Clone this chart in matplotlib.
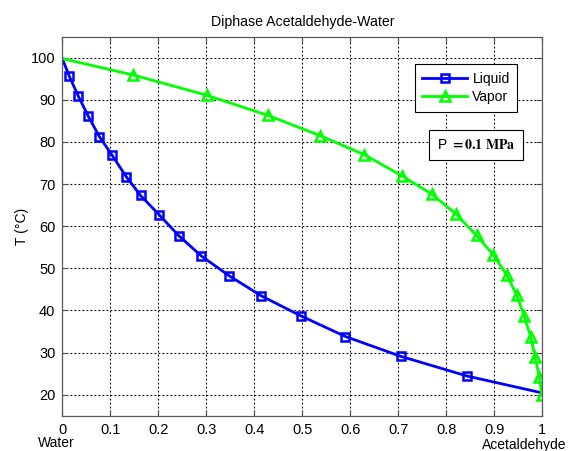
import matplotlib.pyplot as plt

plt.rcParams['font.family'] = ['Liberation Sans', 'DejaVu Sans']
plt.rcParams['mathtext.fontset'] = 'stix'

# Liquid curve (mole fraction acetaldehyde, temperature)
x_liq = [0.0, 0.0146, 0.0333, 0.0542, 0.0771, 0.104, 0.133, 0.163, 0.202,
         0.243, 0.290, 0.348, 0.414, 0.497, 0.590, 0.705, 0.844, 1.0]
T_liq = [99.8, 95.6, 90.9, 86.1, 81.3, 76.8, 71.8, 67.3, 62.7,
         57.7, 52.9, 48.2, 43.5, 38.7, 33.8, 29.1, 24.4, 20.4]

# Vapor curve
x_vap = [0.0, 0.148, 0.301, 0.429, 0.537, 0.629, 0.707, 0.770, 0.820,
         0.863, 0.898, 0.926, 0.947, 0.9625, 0.976, 0.985, 0.994, 0.999]
T_vap = [99.8, 95.9, 91.1, 86.3, 81.5, 77.0, 72.0, 67.6, 62.9,
         57.8, 53.2, 48.4, 43.6, 38.6, 33.7, 29.0, 24.2, 19.8]

xticks = [0, 0.1, 0.2, 0.3, 0.4, 0.5, 0.6, 0.7, 0.8, 0.9, 1]
yticks = [20, 30, 40, 50, 60, 70, 80, 90, 100]

fig = plt.figure(figsize=(5.69, 4.51), dpi=100)
ax = fig.add_axes([0.1095, 0.0783, 0.8435, 0.8403])

ax.plot(x_liq, T_liq, color=(0, 0, 1), lw=2, marker='s', ms=5.8,
        mfc='none', mew=1.8, markevery=list(range(1, len(x_liq) - 1)),
        label='Liquid')
ax.plot(x_vap, T_vap, color=(0, 1, 0), lw=2, marker='^', ms=7.5,
        mfc='none', mew=1.8, markevery=list(range(1, len(x_vap))),
        label='Vapor')

ax.set_xlim(0, 1)
ax.set_ylim(15, 105)
ax.set_xticks(xticks)
ax.set_xticklabels([f'{v:g}' for v in xticks])
ax.set_yticks(yticks)
ax.tick_params(direction='in', top=True, right=True, length=4,
               labelsize=10.5, color='0.3', pad=5)
ax.grid(True, color='black', linestyle=(0, (1.6, 2)), linewidth=0.8)
for s in ax.spines.values():
    s.set_color('0.35')
    s.set_linewidth(0.9)

ax.set_title('Diphase Acetaldehyde-Water', fontsize=10.2, pad=8)
ax.set_ylabel('T (°C)', fontsize=10, labelpad=1)

fig.text(56 / 569, 1 - 443 / 451, 'Water', fontsize=10, ha='center', va='center')
fig.text(482 / 569, 1 - 445 / 451, 'Acetaldehyde', fontsize=10, ha='left', va='center')

leg = ax.legend(loc='upper right', bbox_to_anchor=(0.948, 0.927),
                fontsize=10, fancybox=False, framealpha=1,
                edgecolor='black', handlelength=3.2, borderpad=0.55,
                labelspacing=0.3, handletextpad=0.4, borderaxespad=0)
leg.get_frame().set_linewidth(0.8)

ax.text(0.862, 0.714, r'P $\mathbf{=0.1\ MPa}$', transform=ax.transAxes,
        ha='center', va='center', fontsize=10,
        bbox=dict(boxstyle='square,pad=0.55', fc='white', ec='black', lw=0.8))

fig.savefig('out.png', dpi=100, facecolor='white')
